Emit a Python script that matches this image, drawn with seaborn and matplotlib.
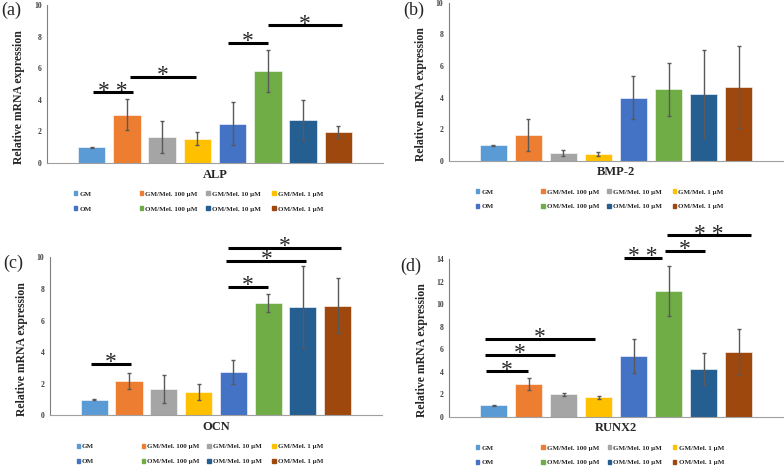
import matplotlib
matplotlib.use("Agg")
import matplotlib.pyplot as plt
from matplotlib.patches import Patch
from matplotlib.legend import Legend
import seaborn as sns

# Data
groups = ["GM", "GM/Mel. 100 µM", "GM/Mel. 10 µM", "GM/Mel. 1 µM",
          "OM", "OM/Mel. 100 µM", "OM/Mel. 10 µM", "OM/Mel. 1 µM"]
colors = ["#5B9BD5", "#ED7D31", "#A5A5A5", "#FFC000",
          "#4472C4", "#70AD47", "#255E91", "#9E480E"]

alp_mean = [1.0, 3.07, 1.64, 1.53, 2.48, 5.84, 2.73, 1.97]
alp_err = [0.03, 0.97, 1.0, 0.42, 1.36, 1.34, 1.27, 0.4]
bmp_mean = [0.97, 1.6, 0.49, 0.42, 3.99, 4.51, 4.2, 4.64]
bmp_err = [0.02, 1.02, 0.17, 0.1, 1.38, 1.7, 2.78, 2.6]
ocn_mean = [0.99, 2.17, 1.65, 1.5, 2.74, 7.09, 6.88, 6.94]
ocn_err = [0.02, 0.48, 0.9, 0.5, 0.77, 0.57, 2.6, 1.72]
runx_mean = [1.0, 2.9, 1.98, 1.72, 5.36, 11.15, 4.23, 5.71]
runx_err = [0.03, 0.53, 0.12, 0.15, 1.5, 2.2, 1.45, 2.04]

genes = ["ALP", "BMP-2", "OCN", "RUNX2"]
means = [alp_mean, bmp_mean, ocn_mean, runx_mean]
errs = [alp_err, bmp_err, ocn_err, runx_err]
ymax = [10, 10, 10, 14]
panel_tags = ["(a)", "(b)", "(c)", "(d)"]

# significance brackets: (x start, x end, height, stars)
sig = [
    [(0.04, 1.17, 4.47, "* *"), (1.08, 2.97, 5.44, "*"),
     (3.87, 5.0, 7.6, "*"), (5.0, 7.1, 8.72, "*")],
    [],
    [(-0.1, 1.05, 3.25, "*"), (3.85, 5.0, 8.12, "*"),
     (3.8, 6.1, 9.79, "*"), (3.85, 7.1, 10.61, "*")],
    [(-0.23, 0.99, 4.02, "*"), (-0.25, 1.74, 5.47, "*"), (-0.25, 2.9, 6.92, "*"),
     (3.72, 4.8, 14.08, "* *"), (4.9, 6.04, 14.73, "*"), (4.94, 7.34, 16.1, "* *")],
]

sns.set_style("white")
plt.rcParams["font.family"] = ["Liberation Serif", "DejaVu Serif"]

fig = plt.figure(figsize=(7.84, 4.67), dpi=100)
boxes = [[0.060, 0.651, 0.4285, 0.338],
         [0.5727, 0.656, 0.426, 0.338],
         [0.0638, 0.1107, 0.4232, 0.3383],
         [0.573, 0.1077, 0.426, 0.3377]]
tag_pos = [(0.002, 0.997), (0.514, 0.997), (0.004, 0.455), (0.51, 0.448)]
leg_cols = [0.08, 0.276, 0.474, 0.67]
leg_font = {"family": "Liberation Serif", "weight": "bold", "size": 5.0}

for i in range(4):
    ax = fig.add_axes(boxes[i])
    sns.barplot(x=groups, y=means[i], hue=groups, palette=colors, legend=False,
                width=0.78, errorbar=None, saturation=1, edgecolor="white",
                linewidth=0.4, ax=ax)
    ax.errorbar(x=range(len(groups)), y=means[i], yerr=errs[i], fmt="none",
                ecolor="#595959", elinewidth=1, capsize=1.6, capthick=1)
    ax.set_xlim(-1.27, 8.27)
    ax.set_ylim(0, ymax[i])
    ax.set_yticks(range(0, ymax[i] + 1, 2))
    ax.set_xticks([])
    ax.tick_params(axis="y", length=0, pad=4, labelsize=5.5, labelcolor="#404040")
    for lab in ax.get_yticklabels():
        lab.set_fontweight("bold")
    for s in ["top", "right"]:
        ax.spines[s].set_visible(False)
    ax.spines["left"].set_color("#7f7f7f")
    ax.spines["bottom"].set_color("#a0a0a0")
    ax.spines["left"].set_linewidth(0.8)
    ax.spines["bottom"].set_linewidth(0.8)
    ax.set_ylabel("Relative mRNA expression", fontsize=8.5, fontweight="bold")
    ax.yaxis.set_label_coords(-0.065, 0.42)
    ax.set_xlabel(genes[i], fontsize=9, fontweight="bold", labelpad=4)

    for x0, x1, y, stars in sig[i]:
        ax.plot([x0, x1], [y, y], color="black", linewidth=2.2, clip_on=False,
                solid_capstyle="butt")
        ax.annotate(stars, xy=((x0 + x1) / 2, y), xytext=(0, -3),
                    textcoords="offset points", ha="center", va="baseline",
                    fontsize=17, annotation_clip=False)

    # legend: 4 columns x 2 rows, same column widths as the original
    for j in range(4):
        hs = [Patch(color=colors[j]), Patch(color=colors[j + 4])]
        leg = Legend(ax, hs, [groups[j], groups[j + 4]], loc="upper left",
                     bbox_to_anchor=(leg_cols[j], -0.18), frameon=False,
                     prop=leg_font, handlelength=0.5, handleheight=0.5,
                     handletextpad=0.3, labelspacing=1.35, borderpad=0,
                     borderaxespad=0)
        ax.add_artist(leg)

    fig.text(tag_pos[i][0], tag_pos[i][1], panel_tags[i], fontsize=13,
             ha="left", va="top")

fig.savefig("out.png", dpi=100)
